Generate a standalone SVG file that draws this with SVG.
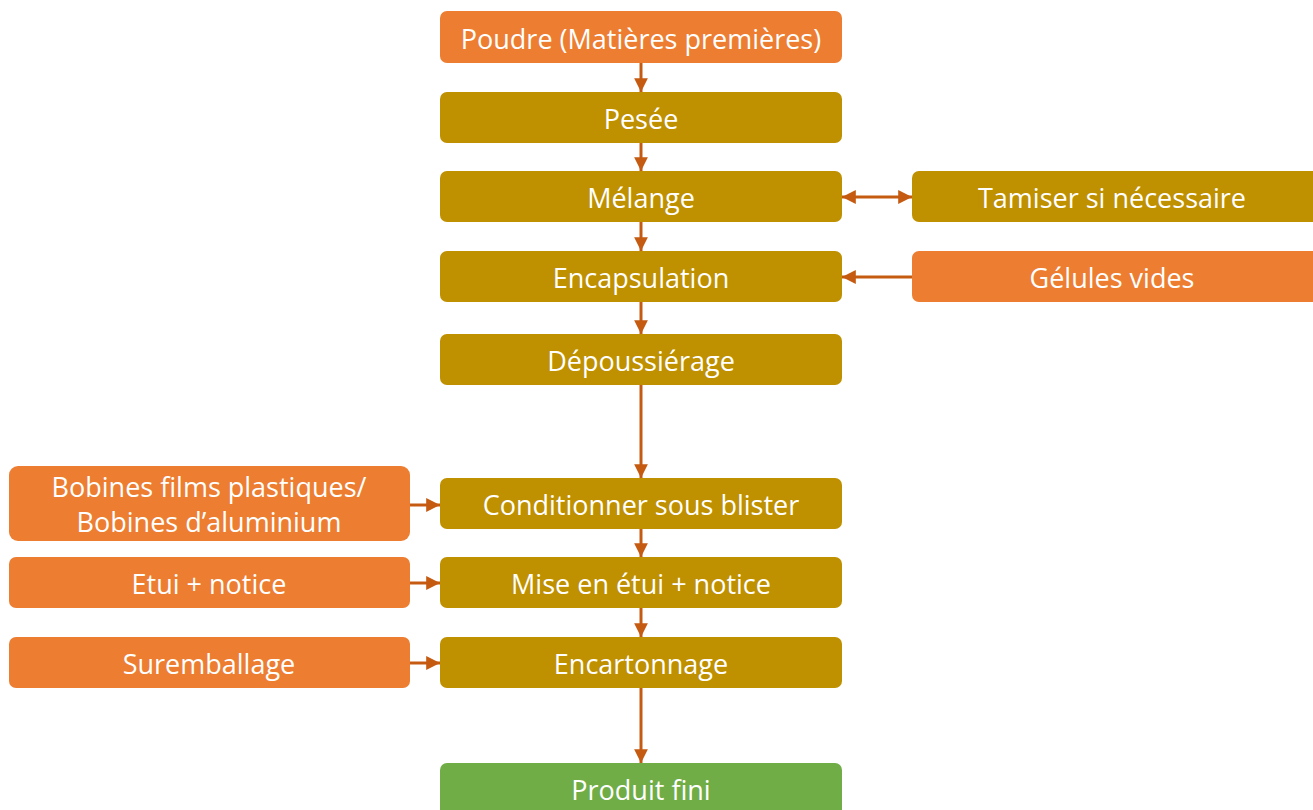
<svg xmlns="http://www.w3.org/2000/svg" width="1313" height="810" viewBox="0 0 1313 810">
<style>
.o{fill:#ED7D31}.g{fill:#BF9000}.v{fill:#70AD47}
text{font-family:"Open Sans","Liberation Sans",sans-serif;font-size:27px;fill:#fff;text-anchor:middle;dominant-baseline:central}
.c line{stroke:#C55A11;stroke-width:3}
</style>
<defs>
<marker id="ah" viewBox="0 0 10 10" refX="10" refY="5" markerWidth="4.6" markerHeight="4.6" orient="auto-start-reverse" markerUnits="strokeWidth"><path d="M0,0L10,5L0,10z" fill="#C55A11"/></marker>
</defs>
<rect width="1313" height="810" fill="#fff"/>
<g id="poudre"><rect class="o" x="440" y="11" width="402" height="52" rx="7"/><text x="641" y="38">Poudre (Matières premières)</text></g>
<g id="pesee"><rect class="g" x="440" y="92" width="402" height="51" rx="7"/><text x="641" y="118">Pesée</text></g>
<g id="melange"><rect class="g" x="440" y="171" width="402" height="51" rx="7"/><text x="641" y="197">Mélange</text></g>
<g id="tamiser"><rect class="g" x="912" y="171" width="410" height="51" rx="7"/><text x="1112" y="197">Tamiser si nécessaire</text></g>
<g id="encapsulation"><rect class="g" x="440" y="251" width="402" height="51" rx="7"/><text x="641" y="277">Encapsulation</text></g>
<g id="gelules"><rect class="o" x="912" y="251" width="410" height="51" rx="7"/><text x="1112" y="277">Gélules vides</text></g>
<g id="depoussierage"><rect class="g" x="440" y="334" width="402" height="51" rx="7"/><text x="641" y="360">Dépoussiérage</text></g>
<g id="conditionner"><rect class="g" x="440" y="478" width="402" height="51" rx="7"/><text x="641" y="504">Conditionner sous blister</text></g>
<g id="bobines"><rect class="o" x="9" y="466" width="401" height="75" rx="9"/><text x="209" y="486">Bobines films plastiques/</text><text x="209" y="521">Bobines d’aluminium</text></g>
<g id="mise"><rect class="g" x="440" y="557" width="402" height="51" rx="7"/><text x="641" y="583">Mise en étui + notice</text></g>
<g id="etui"><rect class="o" x="9" y="557" width="401" height="51" rx="7"/><text x="209" y="583">Etui + notice</text></g>
<g id="encartonnage"><rect class="g" x="440" y="637" width="402" height="51" rx="7"/><text x="641" y="663">Encartonnage</text></g>
<g id="suremballage"><rect class="o" x="9" y="637" width="401" height="51" rx="7"/><text x="209" y="663">Suremballage</text></g>
<g id="produit"><rect class="v" x="440" y="763" width="402" height="60" rx="7"/><text x="641" y="789">Produit fini</text></g>
<g class="c" id="connectors">
<line x1="641" y1="63" x2="641" y2="92" marker-end="url(#ah)"/>
<line x1="641" y1="143" x2="641" y2="171" marker-end="url(#ah)"/>
<line x1="641" y1="222" x2="641" y2="251" marker-end="url(#ah)"/>
<line x1="641" y1="302" x2="641" y2="334" marker-end="url(#ah)"/>
<line x1="641" y1="385" x2="641" y2="478" marker-end="url(#ah)"/>
<line x1="641" y1="529" x2="641" y2="557" marker-end="url(#ah)"/>
<line x1="641" y1="608" x2="641" y2="637" marker-end="url(#ah)"/>
<line x1="641" y1="688" x2="641" y2="763" marker-end="url(#ah)"/>
<line x1="842" y1="197" x2="912" y2="197" marker-start="url(#ah)" marker-end="url(#ah)"/>
<line x1="912" y1="277" x2="842" y2="277" marker-end="url(#ah)"/>
<line x1="410" y1="505" x2="440" y2="505" marker-end="url(#ah)"/>
<line x1="410" y1="583" x2="440" y2="583" marker-end="url(#ah)"/>
<line x1="410" y1="663" x2="440" y2="663" marker-end="url(#ah)"/>
</g>
</svg>
